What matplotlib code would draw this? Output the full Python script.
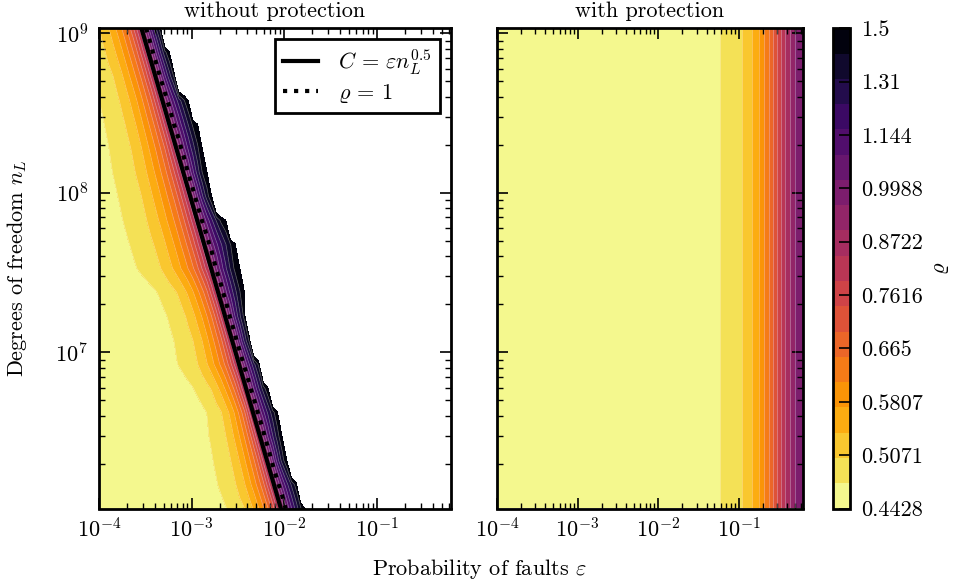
import numpy as np
import matplotlib
matplotlib.use("Agg")
import matplotlib.pyplot as plt
from matplotlib.colors import LogNorm
from matplotlib.lines import Line2D
from matplotlib.ticker import FormatStrFormatter

plt.rcParams.update({
    "font.family": "serif",
    "font.serif": ["cmr10"],
    "mathtext.fontset": "cm",
    "axes.formatter.use_mathtext": True,
    "axes.unicode_minus": False,
    "font.size": 16,
    "axes.linewidth": 2,
    "xtick.direction": "in", "ytick.direction": "in",
    "xtick.top": True, "ytick.right": True,
    "xtick.major.size": 8, "xtick.minor.size": 4,
    "ytick.major.size": 8, "ytick.minor.size": 4,
    "xtick.major.width": 1.2, "xtick.minor.width": 1.0,
    "ytick.major.width": 1.2, "ytick.minor.width": 1.0,
    "xtick.major.pad": 6, "ytick.major.pad": 8,
})

# simulation grid
eps = np.logspace(-4, np.log10(0.63), 76)
nL = 2.0 ** np.arange(20, 30.5, 0.5)

# without protection: rho against the distance (decades of C) from C = eps * nL**0.5
C_line = 9.4
d_knots = [-4.0, -0.80, -0.64, -0.43, -0.33, -0.26, -0.20, -0.15, -0.11, -0.08,
           -0.05, -0.02, 0.01, 0.05]
rho_knots = [0.4430, 0.458, 0.4722, 0.5035, 0.5369, 0.5725, 0.6105, 0.651, 0.694,
             0.740, 0.789, 0.842, 0.8975, 1.0]
# per nL row (bottom to top): width of the low-rho side, and where rho passes 1.5
low_stretch = [0.91, 0.94, 0.90, 0.85, 0.78, 0.88, 1.03, 0.98, 0.97, 1.02, 1.25,
               1.25, 1.25, 1.22, 1.19, 1.13, 1.09, 1.06, 1.06, 1.06, 1.06]
edge_dec = [0.28, 0.28, 0.23, 0.26, 0.29, 0.26, 0.26, 0.23, 0.25, 0.30, 0.31,
            0.36, 0.31, 0.25, 0.26, 0.30, 0.31, 0.30, 0.25, 0.24, 0.24]

# with protection: rho against eps
eps_r = [1e-4, 0.03, 0.0597, 0.1117, 0.1486, 0.1767, 0.2094, 0.2415, 0.2706,
         0.3034, 0.3398, 0.3804, 0.4259, 0.4914, 0.63]
rho_r = [0.4430, 0.455, 0.4722, 0.5035, 0.5369, 0.5725, 0.6105, 0.651, 0.694,
         0.740, 0.789, 0.842, 0.8975, 0.957, 0.99]

rho_min, rho_max = 0.44282, 1.5
levels = np.logspace(np.log10(rho_min), np.log10(rho_max), 20)
levels[0], levels[-1] = rho_min, rho_max
cticks = np.logspace(np.log10(rho_min), np.log10(rho_max), 10)

E, N = np.meshgrid(eps, nL)
D = np.log10(E * np.sqrt(N) / C_line)
stretch = np.array(low_stretch)[:, None] * np.ones_like(D)
edge = np.array(edge_dec)[:, None] * np.ones_like(D)
Deff = np.where(D < 0, D / stretch, D)
Z1 = np.interp(Deff, d_knots, rho_knots)
up = D > d_knots[-1]
frac = (D - d_knots[-1]) / (edge - 0.02 - d_knots[-1])
Z1[up] = np.minimum(1.0 + 0.5 * frac[up], rho_max)
Z1[D > edge] = 2.0
Z2 = np.interp(np.log10(E), np.log10(eps_r), rho_r)

W, H = 958, 587
fig = plt.figure(figsize=(W / 100, H / 100), dpi=100)
y0, h = 1 - 508.5 / H, 480.2 / H
ax1 = fig.add_axes([99 / W, y0, 352 / W, h])
ax2 = fig.add_axes([497 / W, y0, 306 / W, h])
cax = fig.add_axes([833 / W, y0, 17 / W, h])

norm = LogNorm(vmin=rho_min, vmax=rho_max)
for ax, Z in ((ax1, Z1), (ax2, Z2)):
    ax.set_xscale("log")
    ax.set_yscale("log")
    cs = ax.contourf(E, N, Z, levels=levels, cmap="inferno_r", norm=norm)
    ax.contour(E, N, Z, levels=levels[1:-1], colors="w", linewidths=0.5, alpha=0.4)
    ax.set_xlim(1e-4, 0.63)
    ax.set_ylim(2.0 ** 20, 2.0 ** 30)
ax2.tick_params(labelleft=False)

ax1.contour(E, N, Z1, levels=[1.0], colors="k", linestyles=":", linewidths=3)
ax1.plot(C_line / np.sqrt(nL), nL, color="k", lw=3)

handles = [Line2D([], [], color="k", lw=3), Line2D([], [], color="k", lw=3, ls=":")]
leg = ax1.legend(handles, [r"$C\,=\,\varepsilon n_L^{0.5}$", r"$\varrho\,=\,1$"],
                 loc="upper right", fancybox=False, framealpha=1, edgecolor="k",
                 handlelength=1.6, handletextpad=0.9, borderpad=0.35,
                 labelspacing=0.25)
leg.get_frame().set_linewidth(2)

ax1.set_title("without protection", fontsize=16, pad=8)
ax2.set_title("with protection", fontsize=16, pad=8)

cb = fig.colorbar(cs, cax=cax, ticks=cticks)
cb.minorticks_off()
cb.ax.yaxis.set_major_formatter(FormatStrFormatter("%.4g"))
cb.outline.set_linewidth(2)
cb.ax.tick_params(direction="in", length=8, width=1.2)
cb.set_label(r"$\varrho$", labelpad=6)

fig.text(0.5, 1 - 569 / H, r"Probability of faults $\varepsilon$",
         ha="center", va="center")
fig.text(17 / W, 1 - 268 / H, r"Degrees of freedom $n_L$",
         ha="center", va="center", rotation=90)

fig.savefig("out.png", dpi=100)
